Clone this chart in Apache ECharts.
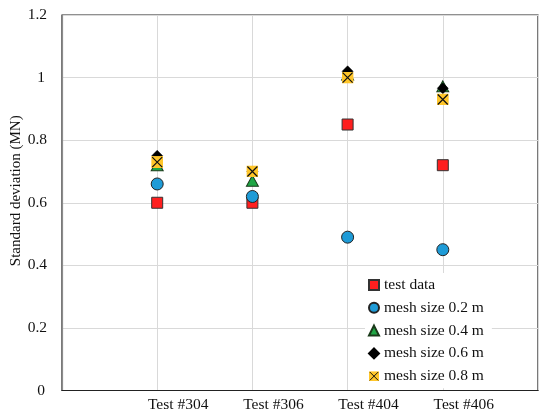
<!DOCTYPE html>
<html>
<head>
<meta charset="utf-8">
<script src="https://cdn.jsdelivr.net/npm/echarts@6/dist/echarts.min.js"></script>
<style>
html,body{margin:0;padding:0;background:#fff;}
#chart{width:550px;height:416px;}
</style>
</head>
<body>
<div id="chart"></div>
<script>
var categories = ['Test #304', 'Test #306', 'Test #404', 'Test #406'];
var seriesNames = ['test data', 'mesh size 0.2 m', 'mesh size 0.4 m', 'mesh size 0.6 m', 'mesh size 0.8 m'];
var testData = [0.60, 0.60, 0.85, 0.72];
var mesh02 = [0.66, 0.62, 0.49, 0.45];
var mesh04 = [0.72, 0.67, 1.01, 0.972];
var mesh06 = [0.75, 0.70, 1.02, 0.966];
var mesh08 = [0.73, 0.70, 1.00, 0.93];
var yTicks = [0, 0.2, 0.4, 0.6, 0.8, 1, 1.2];

function pts(arr) {
  return arr.map(function (v, i) { return [i + 1, v]; });
}

var xSvg = "<svg xmlns='http://www.w3.org/2000/svg' width='24' height='24' viewBox='0 0 24 24'>" +
  "<rect x='0' y='0' width='24' height='24' fill='#FFC62A'/>" +
  "<path d='M2 2L22 22M22 2L2 22' stroke='#111' stroke-width='2.4' fill='none'/></svg>";
var xSymbol = 'image://data:image/svg+xml;charset=utf-8,' + encodeURIComponent(xSvg);

var FONT = '"Liberation Serif", "DejaVu Serif", serif';
var chart = echarts.init(document.getElementById('chart'));

var option = {
  backgroundColor: '#fff',
  animation: false,
  textStyle: { fontFamily: FONT },
  grid: {
    left: 62, right: 12, top: 15, bottom: 25.5,
    outerBoundsMode: 'none', containLabel: false,
    show: true, borderColor: '#222', borderWidth: 1.2, backgroundColor: 'transparent'
  },
  legend: {
    orient: 'vertical',
    left: 365, top: 273,
    padding: [4, 8, 4, 3],
    backgroundColor: '#fff',
    itemWidth: 10, itemHeight: 10, itemGap: 6.8,
    textStyle: { fontFamily: FONT, fontSize: 15.5, lineHeight: 15, color: '#111' },
    data: seriesNames
  },
  xAxis: {
    type: 'value', min: 0, max: 5, interval: 1,
    axisLine: { show: true, lineStyle: { color: '#222', width: 1.2 } },
    axisTick: { show: false },
    splitLine: { show: true, lineStyle: { color: '#d9d9d9', width: 1 } },
    axisLabel: {
      margin: 6,
      showMinLabel: false, showMaxLabel: false,
      formatter: function (v) {
        var c = categories[v - 1];
        return c ? '{a|' + c + '}' : '';
      },
      rich: { a: { fontFamily: FONT, fontSize: 15.5, color: '#111', padding: [0, 0, 0, 42] } }
    }
  },
  yAxis: {
    type: 'value', min: 0, max: 1.2, interval: 0.2,
    name: 'Standard deviation (MN)',
    nameLocation: 'middle', nameGap: 38, nameMoveOverlap: false,
    nameTextStyle: { fontFamily: FONT, fontSize: 15, color: '#111', padding: [0, 0, 0, 24] },
    axisLine: { show: true, lineStyle: { color: '#8c8c8c', width: 1.2 } },
    axisTick: { show: false },
    splitLine: { show: true, lineStyle: { color: '#d9d9d9', width: 1 } },
    axisLabel: {
      margin: 15,
      formatter: function (v) {
        var s = String(Math.round(v * 10) / 10);
        return s.indexOf('.') >= 0 ? '{d|' + s + '}' : '{i|' + s + '}';
      },
      rich: {
        d: { fontFamily: FONT, fontSize: 15.5, color: '#111' },
        i: { fontFamily: FONT, fontSize: 15.5, color: '#111', padding: [0, 2, 0, 0] }
      }
    }
  },
  series: [
    {
      name: seriesNames[0], type: 'scatter', symbol: 'rect', symbolSize: 11,
      itemStyle: { color: '#FF1F1F', borderColor: '#333', borderWidth: 1, opacity: 1 },
      data: pts(testData)
    },
    {
      name: seriesNames[1], type: 'scatter', symbol: 'circle', symbolSize: 12,
      itemStyle: { color: '#1E9BD7', borderColor: '#222', borderWidth: 1, opacity: 1 },
      data: pts(mesh02)
    },
    {
      name: seriesNames[2], type: 'scatter', symbol: 'triangle', symbolSize: [12, 11],
      itemStyle: { color: '#1FA645', borderColor: '#1a3a1a', borderWidth: 1, opacity: 1 },
      data: pts(mesh04)
    },
    {
      name: seriesNames[3], type: 'scatter', symbol: 'diamond', symbolSize: [11, 11],
      itemStyle: { color: '#000', borderColor: '#000', borderWidth: 0.5, opacity: 1 },
      data: pts(mesh06)
    },
    {
      name: seriesNames[4], type: 'scatter', symbol: xSymbol, symbolSize: 12,
      itemStyle: { opacity: 1 },
      data: pts(mesh08)
    }
  ]
};
chart.setOption(option);
</script>
</body>
</html>
